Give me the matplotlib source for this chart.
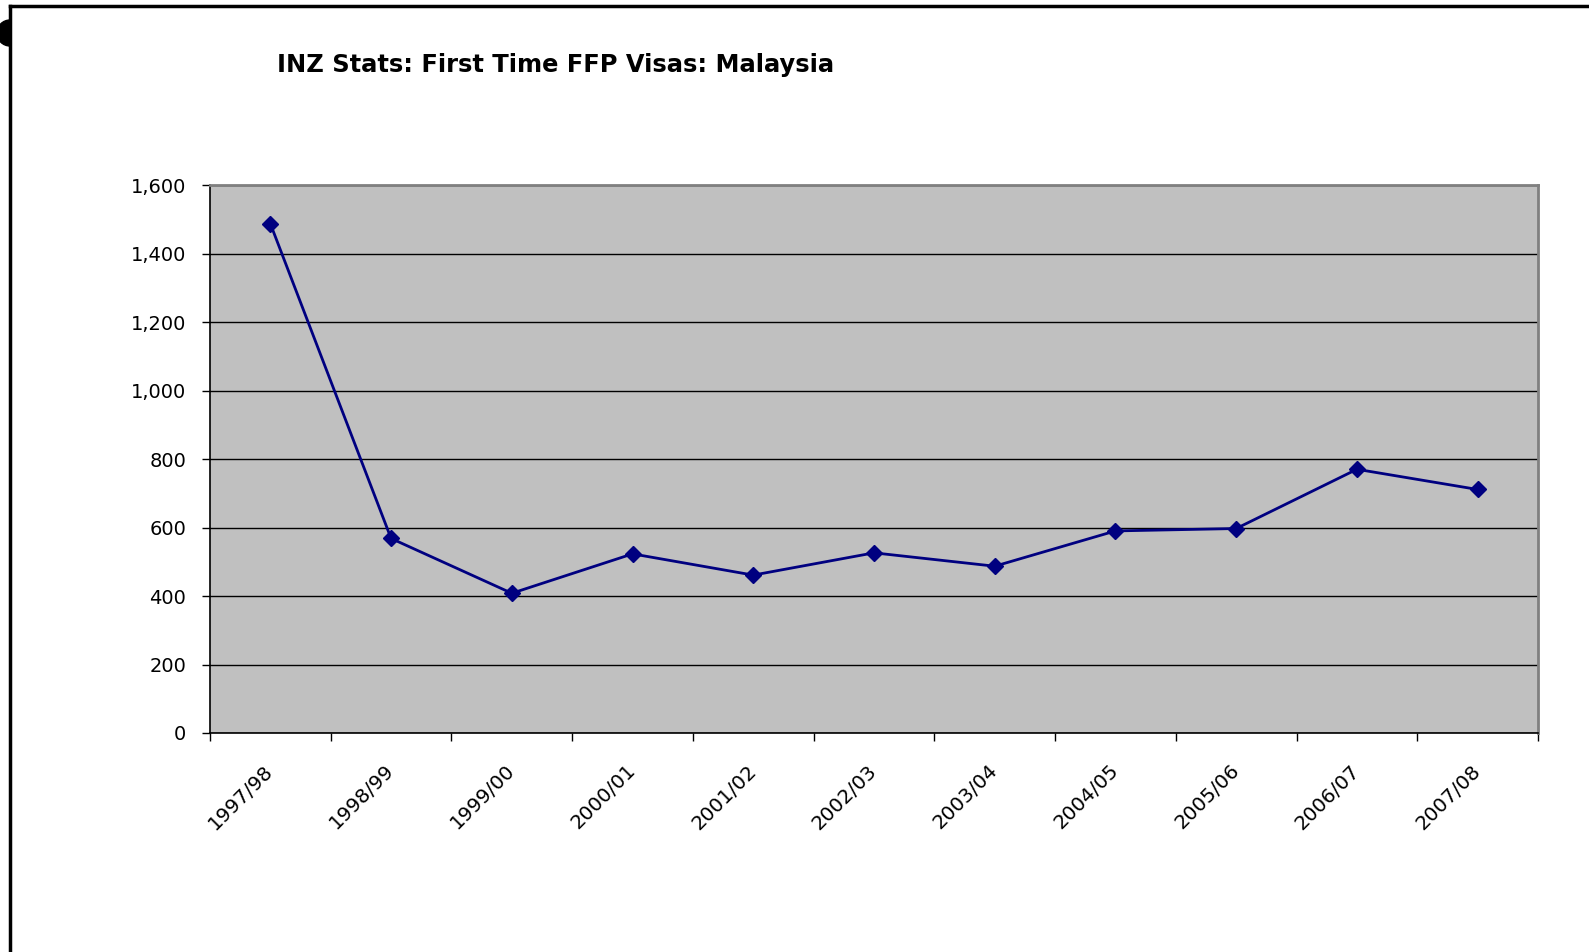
"""INZ Stats: first time FFP visas for Malaysia, Excel-style line chart."""

import matplotlib
matplotlib.use('Agg')
import matplotlib.pyplot as plt
from matplotlib.lines import Line2D
from matplotlib.patches import Wedge
from matplotlib.ticker import FuncFormatter, MultipleLocator
import numpy as np

# Data
years = ['1997/98', '1998/99', '1999/00', '2000/01', '2001/02', '2002/03',
         '2003/04', '2004/05', '2005/06', '2006/07', '2007/08']
visas = [1487, 568, 408, 523, 461, 526, 487, 590, 597, 770, 711]

W, H, DPI = 1589, 952, 100
plt.rcParams['font.family'] = ['DejaVu Sans']

fig = plt.figure(figsize=(W / DPI, H / DPI), dpi=DPI)

# Plot area in pixels: x 210..1538, y 185..733 (from top)
ax = fig.add_axes([210 / W, 1 - 733 / H, 1328 / W, 548 / H])
ax.set_facecolor('#C0C0C0')

x = np.arange(len(years))
ax.plot(x, visas, color='#000080', lw=2, marker='D', ms=8, zorder=3)

ax.set_xlim(-0.5, len(years) - 0.5)
ax.set_ylim(0, 1600)

# y axis
ax.yaxis.set_major_locator(MultipleLocator(200))
ax.yaxis.set_major_formatter(FuncFormatter(lambda v, _: f'{int(v):,}'))
ax.grid(axis='y', color='black', lw=1)
ax.set_axisbelow(True)
ax.tick_params(axis='y', length=6, width=1, pad=11, labelsize=14)

# x axis: labels at category centres, tick marks at the boundaries
ax.set_xticks(x, years, rotation=45, ha='right', rotation_mode='anchor',
              va='center')
ax.tick_params(axis='x', which='major', length=0, pad=25, labelsize=14.3)
ax.set_xticks(np.arange(len(years) + 1) - 0.5, minor=True)
ax.tick_params(axis='x', which='minor', length=6, width=1)

for side in ('top', 'right'):
    ax.spines[side].set_color('#808080')
    ax.spines[side].set_linewidth(2)
for side in ('left', 'bottom'):
    ax.spines[side].set_color('black')
    ax.spines[side].set_linewidth(1.2)

fig.text(277 / W, 1 - 65 / H, 'INZ Stats: First Time FFP Visas: Malaysia',
         fontsize=17.4, fontweight='bold', ha='left', va='center')

# Chart frame (only top and left edges visible) and the little handle
fig.add_artist(Line2D([10 / W, 1], [1 - 6 / H, 1 - 6 / H], color='black',
                      lw=2.5, transform=fig.transFigure))
fig.add_artist(Line2D([10 / W, 10 / W], [1 - 6 / H, 0], color='black',
                      lw=2.5, transform=fig.transFigure))
handle = Wedge((10, H - 33), 13, 90, 270, color='black', transform=None)
fig.add_artist(handle)

fig.savefig('out.png', dpi=DPI)
